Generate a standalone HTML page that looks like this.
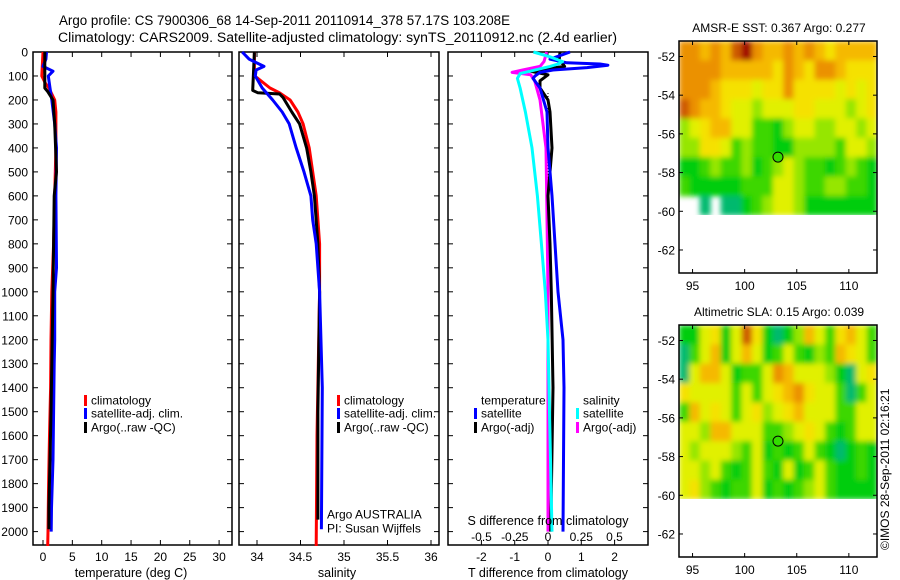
<!DOCTYPE html>
<html><head><meta charset="utf-8"><style>
html,body{margin:0;padding:0;background:#fff;}
svg{display:block;font-family:"Liberation Sans",Arial,sans-serif;}
text{fill:#000;}
</style></head><body>
<svg id="fig" width="900" height="580" viewBox="0 0 900 580" xmlns="http://www.w3.org/2000/svg">
<defs>
<filter id="blur" x="-5%" y="-5%" width="110%" height="110%"><feGaussianBlur stdDeviation="2.6" edgeMode="duplicate"/></filter>
<clipPath id="clip-m1"><rect x="679" y="41" width="198" height="174"/></clipPath>
<clipPath id="clip-m2"><rect x="679" y="325" width="198" height="174"/></clipPath>
</defs>
<text x="59" y="25" font-size="13.5" textLength="451" lengthAdjust="spacingAndGlyphs">Argo profile: CS 7900306_68 14-Sep-2011 20110914_378 57.17S 103.208E</text>
<text x="58" y="42" font-size="13.5" textLength="559" lengthAdjust="spacingAndGlyphs">Climatology: CARS2009. Satellite-adjusted climatology: synTS_20110912.nc (2.4d earlier)</text>
<g id="p1"></g>
<g id="p2"></g>
<g id="p3"></g>
<g id="m1"></g>
<g id="m2"></g>
<text transform="translate(889,550) rotate(-90)" font-size="12">©IMOS 28-Sep-2011 02:16:21</text>
</svg>
<script>
// ---- profile data (depth in m) ----
const tClimD = [0,50,100,130,150,200,250,300,400,500,600,800,1000,1200,1400,1600,1800,2000,2060];
const tClimV = [0.0,-0.1,-0.2,0.4,1.0,2.0,2.2,2.2,2.2,2.1,2.0,1.8,1.5,1.36,1.3,1.1,0.95,0.85,0.8];
const tSatD = [0,30,60,80,100,150,200,300,400,600,900,1000,1200,1300,1500,1700,1900,2000];
const tSatV = [0.6,0.5,0.0,1.7,0.9,1.2,1.5,2.0,2.3,2.2,2.3,2.0,2.0,1.9,1.8,1.7,1.45,1.4];
const tArgoD = [0,150,165,200,300,500,600,1000,1300,1500,1700,1900,1990];
const tArgoV = [0.3,0.3,0.8,1.7,2.0,2.3,1.9,1.7,1.5,1.36,1.2,1.0,1.0];

const sClimD = [0,100,110,150,170,200,250,300,400,500,600,700,800,1000,1600,2060];
const sClimV = [33.97,33.97,34.01,34.15,34.26,34.38,34.47,34.53,34.60,34.64,34.68,34.70,34.72,34.72,34.69,34.68];
const sSatD = [0,30,60,75,100,150,200,250,300,400,500,600,700,800,1000,1400,1990];
const sSatV = [33.83,33.91,34.08,33.99,33.98,34.06,34.18,34.29,34.37,34.45,34.54,34.62,34.64,34.68,34.72,34.75,34.74];
const sArgoD = [0,160,170,175,190,250,300,400,500,600,800,1000,1500,1950];
const sArgoV = [33.97,33.95,34.01,34.26,34.30,34.40,34.49,34.57,34.62,34.66,34.70,34.72,34.70,34.70];

const dTSatD = [0,30,45,50,55,65,75,85,100,110,150,250,400,600,800,1000,1200,1400,2000];
const dTSatV = [0.66,0.06,0.57,1.56,1.8,1.17,0.15,-0.24,-0.39,-0.45,-0.24,-0.03,0.0,0.12,0.21,0.3,0.45,0.48,0.45];
const dTArgoD = [0,40,50,60,70,80,95,120,150,200,250,400,600,800,1000,1400,2000];
const dTArgoV = [0.36,0.33,0.45,0.5,-0.03,-0.54,0.0,-0.24,-0.24,0.0,0.06,0.12,0.0,0.06,0.1,0.15,0.08];
const dSSatD = [0,20,40,50,60,70,90,110,150,250,400,600,800,1000,1200,2000];
const dSSatV = [-0.11,0.015,0.11,0.075,0.015,-0.06,-0.21,-0.23,-0.21,-0.17,-0.12,-0.08,-0.05,-0.02,0.0,0.03];
const dSArgoD = [0,40,60,75,85,95,120,200,400,600,1000,2000];
const dSArgoV = [-0.01,-0.03,-0.06,-0.19,-0.27,-0.13,-0.10,-0.06,-0.015,-0.01,0.0,0.0];

const depthTicks = [0,100,200,300,400,500,600,700,800,900,1000,1100,1200,1300,1400,1500,1600,1700,1800,1900,2000];
const tTicks = [0,5,10,15,20,25,30];
const sTicks = [34,34.5,35,35.5,36];
const sTickLabels = ["34","34.5","35","35.5","36"];
const dTTicks = [-2,-1,0,1,2];
const dSTicks = [-0.5,-0.25,0,0.25,0.5];
const dSTickLabels = ["-0.5","-0.25","0","0.25","0.5"];

// ---- map data (value 0..10 colour index, -1 = no data); rows from -51.2S southward, 1 deg cols from 93.7E ----
const sstRow0 = [8,8,7,8,7,9,10,8,7,7,8,7,8,7,6,7,7,7,7];
const sstRow1 = [8,8,8,8,7,7,7,7,7,6,8,7,6,8,8,7,6,6,6];
const sstRow2 = [8,8,8,7,6,6,6,5,6,6,8,6,6,6,6,5,6,5,6];
const sstRow3 = [9,8,7,7,6,5,5,4,5,5,5,6,6,5,5,5,4,5,6];
const sstRow4 = [4,5,6,7,7,5,5,3,3,2,4,5,5,4,4,5,5,4,5];
const sstRow5 = [4,4,6,6,5,3,4,3,3,2,2,4,4,4,4,3,5,5,4];
const sstRow6 = [2,2,3,4,3,3,4,2,3,4,5,4,3,3,2,3,4,3,2];
const sstRow7 = [3,2,2,2,2,2,3,3,3,5,5,4,3,3,4,4,3,3,2];
const sstRow8 = [-1,-1,1,-1,1,1,2,3,4,5,5,4,2,2,2,2,2,2,2];
const slaRow0 = [2,2,5,6,2,5,9,6,2,1,2,4,7,5,3,6,7,5,3];
const slaRow1 = [1,3,5,7,2,5,7,5,2,3,5,3,2,4,3,7,6,5,3];
const slaRow2 = [1,5,7,7,5,2,3,3,5,8,7,5,5,5,4,2,1,5,6];
const slaRow3 = [6,5,5,5,5,3,5,3,5,6,7,8,6,5,5,3,1,3,5];
const slaRow4 = [3,7,5,6,5,3,5,6,4,5,6,7,5,5,5,3,3,5,5];
const slaRow5 = [5,5,4,7,7,5,5,5,3,3,4,5,6,5,3,2,3,5,5];
const slaRow6 = [5,4,5,5,5,4,3,5,2,3,2,3,5,3,2,1,2,3,2];
const slaRow7 = [5,5,4,5,3,2,3,5,3,2,5,2,3,5,3,2,2,3,2];
const slaRow8 = [5,6,4,3,2,3,3,5,2,3,2,3,4,5,3,2,2,2,2];
const lonTicks = [95,100,105,110];
const latTicks = [-52,-54,-56,-58,-60,-62];
const floatLon = 103.2, floatLat = -57.2;

const NS = "http://www.w3.org/2000/svg";
function mk(parent, tag, attrs, txt){
  const e = document.createElementNS(NS, tag);
  for (const k in attrs) e.setAttribute(k, attrs[k]);
  if (txt !== undefined) e.textContent = txt;
  parent.appendChild(e); return e;
}
const yD = d => 52 + d*0.2398;
const TOP = 52, BOT = 545;

function frame(g, x0, x1, name){
  const r = mk(g,'rect',{x:x0,y:TOP,width:x1-x0,height:BOT-TOP,fill:'none',stroke:'#000','stroke-width':1.5});
  
  
  depthTicks.forEach(d=>{
    const y=yD(d);
    mk(g,'line',{x1:x0,y1:y,x2:x0+5,y2:y,stroke:'#000'});
    mk(g,'line',{x1:x1,y1:y,x2:x1-5,y2:y,stroke:'#000'});
  });
}
function xticks(g, ticks, labels, fx, ylab){
  ticks.forEach((v,i)=>{
    const x=fx(v);
    mk(g,'line',{x1:x,y1:BOT,x2:x,y2:BOT-5,stroke:'#000'});
    mk(g,'line',{x1:x,y1:TOP,x2:x,y2:TOP+5,stroke:'#000'});
    const t=mk(g,'text',{x:x,y:ylab,'font-size':12,'text-anchor':'middle'},labels[i]);
    
    
  });
}
function line(g, D, V, fx, color, name, w){
  const pts = D.map((d,i)=>fx(V[i]).toFixed(1)+','+yD(d).toFixed(1)).join(' ');
  const p = mk(g,'polyline',{points:pts,fill:'none',stroke:color,'stroke-width':w||3,'stroke-linejoin':'round'});
  
  
}
function legendRow(g, x, y, color, label){
  if (color) mk(g,'rect',{x:x,y:y-5,width:3,height:11,fill:color});
  const t = mk(g,'text',{x:x+7,y:y+4.5,'font-size':12},label);
  
  
}

// Panel 1: temperature
const p1 = document.getElementById('p1');
const fT = v => 43 + v*5.87;
frame(p1, 33, 232, 'temperature');
depthTicks.forEach(d=>{
  const t=mk(p1,'text',{x:28,y:yD(d)+4.5,'font-size':12,'text-anchor':'end'},String(d));
  
  
});
xticks(p1, tTicks, tTicks.map(String), fT, 561);
line(p1, tClimD, tClimV, fT, '#ff0000', 'temp-climatology-line');
line(p1, tSatD, tSatV, fT, '#0000ff', 'temp-satellite-line');
line(p1, tArgoD, tArgoV, fT, '#000000', 'temp-argo-line');
legendRow(p1, 84, 400, '#ff0000', 'climatology');
legendRow(p1, 84, 413, '#0000ff', 'satellite-adj. clim.');
legendRow(p1, 84, 427, '#000000', 'Argo(..raw -QC)');
let at = mk(p1,'text',{x:131,y:577,'font-size':12.5,'text-anchor':'middle'},'temperature (deg C)');



// Panel 2: salinity
const p2 = document.getElementById('p2');
const fS = v => 257 + (v-34)*87;
frame(p2, 239, 439, 'salinity');
xticks(p2, sTicks, sTickLabels, fS, 561);
line(p2, sClimD, sClimV, fS, '#ff0000', 'sal-climatology-line');
line(p2, sArgoD, sArgoV, fS, '#000000', 'sal-argo-line');
line(p2, sSatD, sSatV, fS, '#0000ff', 'sal-satellite-line');
legendRow(p2, 337, 400, '#ff0000', 'climatology');
legendRow(p2, 337, 413, '#0000ff', 'satellite-adj. clim.');
legendRow(p2, 337, 427, '#000000', 'Argo(..raw -QC)');
legendRow(p2, 320, 514, null, 'Argo AUSTRALIA');
legendRow(p2, 320, 528, null, 'PI: Susan Wijffels');
at = mk(p2,'text',{x:337,y:577,'font-size':12.5,'text-anchor':'middle'},'salinity');



// Panel 3: differences
const p3 = document.getElementById('p3');
const fDT = v => 548 + v*33.3;
const fDS = v => 548 + v*133;
frame(p3, 448, 648, 'difference');
xticks(p3, dTTicks, dTTicks.map(String), fDT, 561);
dSTicks.forEach((v,i)=>{
  const t=mk(p3,'text',{x:fDS(v),y:541,'font-size':12,'text-anchor':'middle'},dSTickLabels[i]);
  
  
});
mk(p3,'line',{x1:548,y1:93,x2:548,y2:260,stroke:'#000','stroke-width':1,'stroke-dasharray':'1,2'});
line(p3, dSArgoD, dSArgoV, fDS, '#ff00ff', 'sdiff-argo-line');
line(p3, dTArgoD, dTArgoV, fDT, '#000000', 'tdiff-argo-line');
line(p3, dTSatD, dTSatV, fDT, '#0000ff', 'tdiff-satellite-line');
line(p3, dSSatD, dSSatV, fDS, '#00ffff', 'sdiff-satellite-line');
legendRow(p3, 474, 400, null, 'temperature');
legendRow(p3, 474, 413, '#0000ff', 'satellite');
legendRow(p3, 474, 427, '#000000', 'Argo(-adj)');
legendRow(p3, 576, 400, null, 'salinity');
legendRow(p3, 576, 413, '#00ffff', 'satellite');
legendRow(p3, 576, 427, '#ff00ff', 'Argo(-adj)');
at = mk(p3,'text',{x:548,y:525,'font-size':12.5,'text-anchor':'middle'},'S difference from climatology');


at = mk(p3,'text',{x:548,y:577,'font-size':12.5,'text-anchor':'middle'},'T difference from climatology');



// Maps
const stops = [[0,[0,175,120]],[1,[0,185,110]],[2,[0,205,10]],[3,[60,215,0]],[4,[150,230,0]],[5,[225,240,0]],[6,[245,225,0]],[7,[245,185,0]],[8,[235,145,0]],[9,[205,90,0]],[10,[160,0,0]]];
function cmap(v){
  for(let i=0;i<stops.length-1;i++){
    if(v<=stops[i+1][0]){const a=stops[i],b=stops[i+1],f=(v-a[0])/(b[0]-a[0]);
      return 'rgb('+a[1].map((c,k)=>Math.round(c+(b[1][k]-c)*f)).join(',')+')';}
  }
  return 'rgb(160,0,0)';
}
function drawMap(id, rows, top, title){
  const g=document.getElementById(id);
  const L=679,R=877,B=top+232;
  const fx = lon => L + (lon-93.7)*10.42;
  const fy = lat => top + (-51.2-lat)*19.35;
  const tt=mk(g,'text',{x:779,y:top-9,'font-size':12,'text-anchor':'middle'},title);
  
  
  const cg=mk(g,'g',{'clip-path':'url(#clip-'+id+')'});
  const bg=mk(cg,'g',{filter:'url(#blur)'});
  rows.forEach((row,r)=>{
    row.forEach((v,c)=>{
      if(v<0) return;
      const cell=mk(bg,'rect',{x:fx(93.7+c).toFixed(1),y:fy(-51.2-r).toFixed(1),width:10.9,height:19.8,fill:cmap(v)});
      
      
    });
  });
  mk(g,'rect',{x:L,y:top,width:R-L,height:B-top,fill:'none',stroke:'#000','stroke-width':1.5});
  lonTicks.forEach(v=>{
    const x=fx(v);
    mk(g,'line',{x1:x,y1:B,x2:x,y2:B-4,stroke:'#000'});
    mk(g,'line',{x1:x,y1:top,x2:x,y2:top+4,stroke:'#000'});
    const t=mk(g,'text',{x:x,y:B+17,'font-size':12,'text-anchor':'middle'},String(v));
    
    
  });
  latTicks.forEach(v=>{
    const y=fy(v);
    mk(g,'line',{x1:L,y1:y,x2:L+4,y2:y,stroke:'#000'});
    mk(g,'line',{x1:R,y1:y,x2:R-4,y2:y,stroke:'#000'});
    const t=mk(g,'text',{x:675,y:y+4.5,'font-size':12,'text-anchor':'end'},String(v));
    
    
  });
  const m=mk(g,'circle',{cx:fx(floatLon),cy:fy(floatLat),r:5,fill:'#33dd00',stroke:'#000','stroke-width':1});
  
  
}
drawMap('m1',[sstRow0,sstRow1,sstRow2,sstRow3,sstRow4,sstRow5,sstRow6,sstRow7,sstRow8],41,'AMSR-E SST: 0.367 Argo: 0.277');
drawMap('m2',[slaRow0,slaRow1,slaRow2,slaRow3,slaRow4,slaRow5,slaRow6,slaRow7,slaRow8],325,'Altimetric SLA: 0.15 Argo: 0.039');
</script>
</body></html>
